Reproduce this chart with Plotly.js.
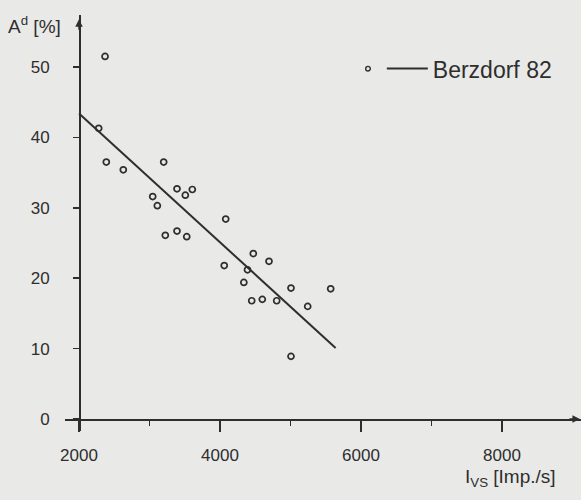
<!DOCTYPE html>
<html>
<head>
<meta charset="utf-8">
<script src="https://cdn.plot.ly/plotly-3.0.1.min.js"></script>
<style>
  html, body { margin: 0; padding: 0; background: #e9e9e7; }
  #chart { width: 581px; height: 500px; }
</style>
</head>
<body>
<div id="chart"></div>
<script>
// Berzdorf 82: ash content A^d against count rate I_VS
const impulseRate = [2369, 2279, 2387, 2628, 3201, 3045, 3111, 3390, 3508, 3607,
                     3224, 3390, 3528, 4081, 4472, 4695, 4060, 4390, 4338, 4450,
                     4600, 4804, 5007, 5570, 5244, 5007];
const ashContent  = [51.5, 41.3, 36.5, 35.4, 36.5, 31.6, 30.3, 32.7, 31.8, 32.6,
                     26.1, 26.7, 25.9, 28.4, 23.5, 22.4, 21.8, 21.2, 19.4, 16.8,
                     17.0, 16.8, 18.6, 18.5, 16.0, 8.9];

// regression line end points
const fitX = [2000, 5640];
const fitY = [43.4, 10.1];

const xTicks = [2000, 4000, 6000, 8000];
const xMinorTicks = [3000, 5000, 7000];
const yTicks = [0, 10, 20, 30, 40, 50];

const xRange = [1801, 9121];
const yRange = [-1.70, 57.39];
// axes cross at x = 2000, y = 0
const yAxisPos = (2000 - xRange[0]) / (xRange[1] - xRange[0]);
const xAxisPos = (0 - yRange[0]) / (yRange[1] - yRange[0]);

const ink = '#2e2e2e';
const family = 'Liberation Sans, Arial, sans-serif';
const font = { family: family, size: 17, color: ink };

const traces = [
  {
    x: impulseRate, y: ashContent,
    type: 'scatter', mode: 'markers', name: 'Messwerte',
    marker: { symbol: 'circle-open', size: 6, color: ink, line: { width: 1.7, color: ink } },
    showlegend: false
  },
  {
    x: fitX, y: fitY,
    type: 'scatter', mode: 'lines', name: 'Berzdorf 82',
    line: { color: ink, width: 2 },
    showlegend: true
  }
];

// legend key position (paper coordinates) for the open-circle sample
const keyX = 0.5872, keyY = 0.871;

const layout = {
  width: 581, height: 500,
  margin: { l: 65, r: 0, t: 15, b: 69 },
  paper_bgcolor: '#e9e9e7',
  plot_bgcolor: '#e9e9e7',
  font: font,
  showlegend: true,
  legend: {
    orientation: 'h',
    x: 0.614, y: keyY, xanchor: 'left', yanchor: 'middle',
    bgcolor: 'rgba(0,0,0,0)',
    font: { family: family, size: 23, color: ink },
    itemwidth: 41
  },
  xaxis: {
    range: xRange, anchor: 'free', position: xAxisPos,
    showline: true, linecolor: ink, linewidth: 1.5,
    showgrid: false, zeroline: false,
    ticks: 'outside', ticklen: 11, tickwidth: 1.5, tickcolor: ink,
    tickvals: xTicks, ticktext: xTicks.map(String),
    ticklabelstandoff: 9,
    minor: { tickvals: xMinorTicks, ticks: 'outside', ticklen: 5, tickwidth: 1.5, tickcolor: ink, showgrid: false },
    tickfont: font
  },
  yaxis: {
    range: yRange, anchor: 'free', position: yAxisPos,
    showline: true, linecolor: ink, linewidth: 1.5,
    showgrid: false, zeroline: false,
    ticks: 'outside', ticklen: 6, tickwidth: 1.5, tickcolor: ink,
    tickvals: yTicks, ticktext: yTicks.map(String),
    ticklabelstandoff: 20,
    tickfont: font
  },
  shapes: [
    {
      type: 'circle', xref: 'paper', yref: 'paper',
      xsizemode: 'pixel', ysizemode: 'pixel', xanchor: keyX, yanchor: keyY,
      x0: -2.3, x1: 2.3, y0: -2.3, y1: 2.3,
      line: { color: ink, width: 1.4 }
    }
  ],
  annotations: [
    {
      xref: 'paper', yref: 'paper', x: -0.114, y: 0.975, xanchor: 'left', yanchor: 'middle',
      text: 'A<sup>d</sup> [%]',
      showarrow: false, font: { family: family, size: 19, color: ink }
    },
    {
      xref: 'paper', yref: 'paper', x: 0.772, y: -0.112, xanchor: 'left', yanchor: 'middle',
      text: 'I<sub>VS</sub> [Imp./s]',
      showarrow: false, font: { family: family, size: 19, color: ink }
    },
    // arrow heads at the ends of both axes
    {
      xref: 'paper', yref: 'paper', x: 0.998, y: xAxisPos, ax: -12, ay: 0,
      text: '', showarrow: true, arrowhead: 2, arrowsize: 1, arrowwidth: 1.5, arrowcolor: ink
    },
    {
      xref: 'paper', yref: 'paper', x: yAxisPos, y: 0.99, ax: 0, ay: 12,
      text: '', showarrow: true, arrowhead: 2, arrowsize: 1, arrowwidth: 1.5, arrowcolor: ink
    }
  ]
};

Plotly.newPlot('chart', traces, layout, { staticPlot: true, displayModeBar: false });
</script>
</body>
</html>
